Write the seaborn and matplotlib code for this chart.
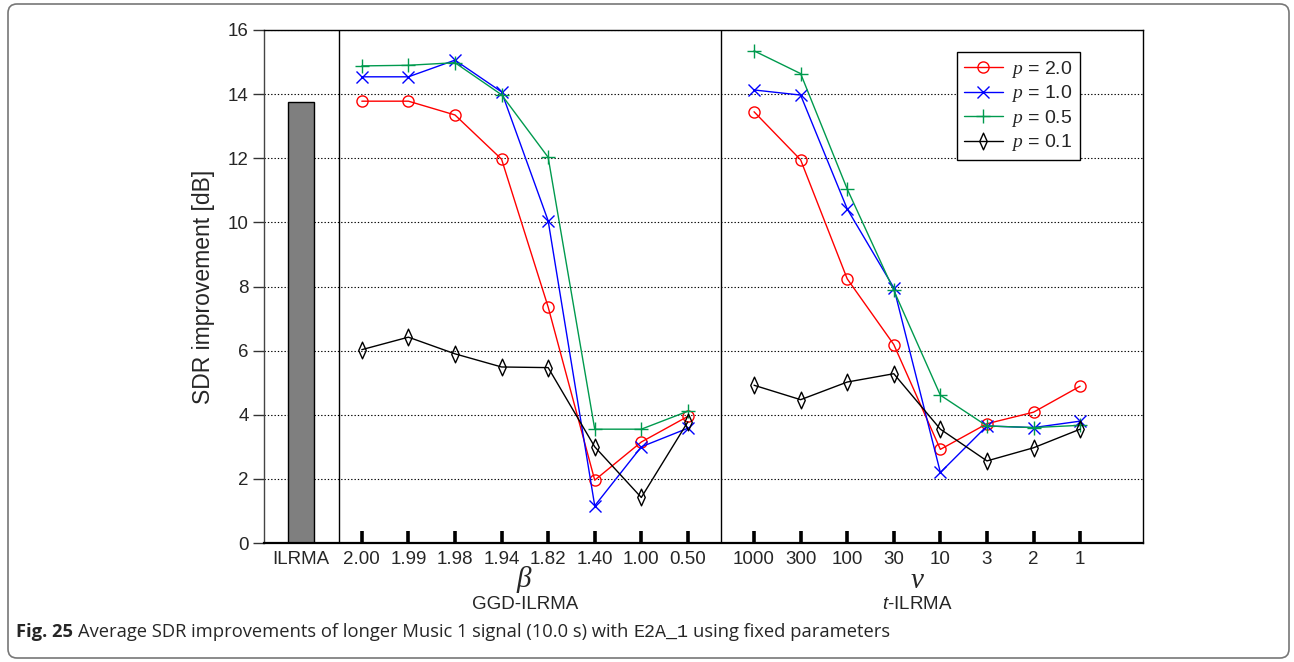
import numpy as np
import pandas as pd
import matplotlib
matplotlib.use("Agg")
import matplotlib.pyplot as plt
import matplotlib.transforms as mtransforms
from matplotlib.patches import FancyBboxPatch
from matplotlib.path import Path
import seaborn as sns

# ---- data -------------------------------------------------------------
beta_labels = ["2.00", "1.99", "1.98", "1.94", "1.82", "1.40", "1.00", "0.50"]
nu_labels = ["1000", "300", "100", "30", "10", "3", "2", "1"]
p_labels = ["2.0", "1.0", "0.5", "0.1"]

ilrma_sdr = 13.76

ggd_p20 = [13.78, 13.78, 13.35, 11.97, 7.36, 1.96, 3.15, 3.95]
ggd_p10 = [14.54, 14.54, 15.06, 14.07, 10.05, 1.16, 3.00, 3.58]
ggd_p05 = [14.88, 14.90, 14.98, 13.98, 12.03, 3.55, 3.55, 4.11]
ggd_p01 = [6.03, 6.42, 5.90, 5.49, 5.47, 3.00, 1.42, 3.78]

t_p20 = [13.45, 11.95, 8.24, 6.19, 2.92, 3.72, 4.08, 4.89]
t_p10 = [14.13, 13.97, 10.42, 7.96, 2.20, 3.65, 3.60, 3.80]
t_p05 = [15.35, 14.64, 11.04, 7.88, 4.61, 3.65, 3.60, 3.67]
t_p01 = [4.92, 4.47, 5.02, 5.28, 3.55, 2.56, 2.97, 3.55]

# ---- style ------------------------------------------------------------
sns.set_style("white")
plt.rcParams["font.family"] = ["Liberation Sans", "DejaVu Sans"]
plt.rcParams["mathtext.fontset"] = "custom"
plt.rcParams["mathtext.it"] = "Liberation Serif:italic"
plt.rcParams["mathtext.rm"] = "Liberation Sans"
plt.rcParams["mathtext.sf"] = "Liberation Sans:italic"

W, H, DPI = 1294, 662, 100
fig = plt.figure(figsize=(W / DPI, H / DPI), dpi=DPI)
fig.patch.set_facecolor("white")
ax = fig.add_axes([264 / W, 1 - 543 / H, (1143 - 264) / W, (543 - 30) / H])

# category positions: bar group, GGD group, t group
n = len(beta_labels)
ggd_x = np.arange(n, dtype=float)
t_x = ggd_x[-1] + 1.42 + np.arange(n)
ilrma_x = -1.31
div1, div2 = -0.49, ggd_x[-1] + 0.71

rows = []
for g, grp_x, series in (("ggd", ggd_x, [ggd_p20, ggd_p10, ggd_p05, ggd_p01]),
                         ("t", t_x, [t_p20, t_p10, t_p05, t_p01])):
    for p, vals in zip(p_labels, series):
        for x, v in zip(grp_x, vals):
            rows.append({"x": x, "sdr": v, "p": p, "grp": g})
df = pd.DataFrame(rows)

# slim open diamond
slim_diamond = Path([(0, 1), (0.45, 0), (0, -1), (-0.45, 0), (0, 1)],
                    [Path.MOVETO, Path.LINETO, Path.LINETO, Path.LINETO,
                     Path.CLOSEPOLY])

colors = {"2.0": "#ff0000", "1.0": "#0000ff", "0.5": "#009a4e", "0.1": "#000000"}
markers = {"2.0": "o", "1.0": "x", "0.5": "+", "0.1": slim_diamond}
msizes = {"2.0": 8, "1.0": 9, "0.5": 10, "0.1": 12}

ax.bar([ilrma_x], [ilrma_sdr], width=0.56, color="#7f7f7f",
       edgecolor="black", linewidth=1.0, zorder=2)

for p in p_labels:
    for g in ("ggd", "t"):
        sub = df[(df.p == p) & (df.grp == g)]
        sns.lineplot(data=sub, x="x", y="sdr", ax=ax, sort=False,
                     color=colors[p], marker=markers[p], ms=msizes[p],
                     mfc="none", mec=colors[p], mew=1.0, lw=1.0,
                     label=f"$p$ = {p}" if g == "ggd" else None, zorder=3)

for xd in (div1, div2):
    ax.axvline(xd, color="black", lw=1.0, zorder=4)

ax.set_xlim(-2.1, t_x[-1] + 1.35)
ax.set_ylim(0, 16)
ax.set_yticks(range(0, 17, 2))
ax.set_xticks([ilrma_x] + list(ggd_x) + list(t_x))
ax.set_xticklabels(["ILRMA"] + beta_labels + nu_labels)
ax.tick_params(axis="x", direction="in", length=9, width=2.6, color="black",
               labelsize=13.5, pad=6, bottom=True)
ax.tick_params(axis="y", direction="out", length=8, width=1, color="#333333",
               labelsize=13.5, pad=3, left=True)
ax.xaxis.get_major_ticks()[0].tick1line.set_visible(False)
ax.set_xlabel("")
ax.set_ylabel("SDR improvement [dB]", fontsize=16.5, labelpad=9)

ax.set_axisbelow(True)
ax.yaxis.grid(True, linestyle=(0, (1.2, 1.8)), color="black", lw=0.8)
ax.xaxis.grid(False)
for s in ax.spines.values():
    s.set_color("black")
    s.set_linewidth(1.0)
ax.spines["left"].set_color("#444444")
ax.spines["bottom"].set_linewidth(1.6)

leg = ax.legend(loc="upper right", bbox_to_anchor=(0.928, 0.957),
                borderaxespad=0, frameon=True, fancybox=False,
                fontsize=14, handlelength=2.0, handletextpad=0.45,
                labelspacing=0.18, borderpad=0.35, framealpha=1)
leg.get_frame().set_edgecolor("black")
leg.get_frame().set_linewidth(1.0)

# group labels under the axis
tr = mtransforms.blended_transform_factory(ax.transData, ax.transAxes)
ggd_c = ggd_x.mean()
t_c = t_x.mean()
ax.text(ggd_c, -0.072, r"$\beta$", transform=tr, ha="center", va="center",
        fontsize=21)
ax.text(t_c, -0.072, r"$\nu$", transform=tr, ha="center", va="center",
        fontsize=21)
ax.text(ggd_c, -0.120, "GGD-ILRMA", transform=tr, ha="center", va="center",
        fontsize=13.5)
ax.text(t_c, -0.120, r"$\mathsf{t}$-ILRMA", transform=tr, ha="center",
        va="center", fontsize=13.5)

# rounded outer frame
frame = FancyBboxPatch((8, 4), W - 8 - 5, H - 8,
                       boxstyle="round,pad=0,rounding_size=9",
                       transform=mtransforms.IdentityTransform(),
                       facecolor="none", edgecolor="#777777", lw=1.2)
fig.patches.append(frame)

# caption
cap_y = 1 - 632 / H
cap_font = ["Open Sans", "DejaVu Sans"]
cap_size = 13.2
t1 = fig.text(16 / W, cap_y, "Fig. 25", fontsize=cap_size, fontweight="bold",
              family=cap_font, va="center", ha="left")
fig.canvas.draw()
r = fig.canvas.get_renderer()
x = t1.get_window_extent(r).x1 + 5
t2 = fig.text(x / W, cap_y,
              "Average SDR improvements of longer Music 1 signal (10.0 s) with",
              fontsize=cap_size, family=cap_font, va="center", ha="left")
x = t2.get_window_extent(r).x1 + 5
t3 = fig.text(x / W, cap_y, "E2A_1", fontsize=cap_size,
              family=["Liberation Mono", "DejaVu Sans Mono"],
              va="center", ha="left")
x = t3.get_window_extent(r).x1 + 5
fig.text(x / W, cap_y, "using fixed parameters", fontsize=cap_size,
         family=cap_font, va="center", ha="left")

fig.savefig("out.png", dpi=DPI)
